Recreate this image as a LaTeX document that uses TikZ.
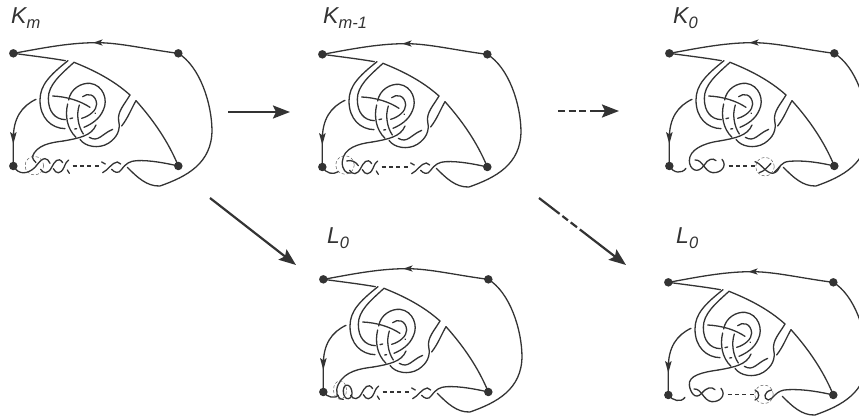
\documentclass[tikz,border=0pt]{standalone}
\usepackage{fontspec}
\setmainfont{Liberation Sans}
\usetikzlibrary{arrows.meta,shapes.geometric}
\definecolor{ink}{HTML}{333333}
\tikzset{
    strand/.style={draw=ink,line width=1.3pt,line cap=round},
    ring/.style={draw=ink!80,line width=.5pt,densely dashed},
    gapdots/.style={draw=ink,line width=1.3pt,dash pattern=on 4pt off 3.4pt},
    endpoint/.style={circle,fill=ink,inner sep=0pt,minimum size=8.5pt},
    panellabel/.style={anchor=base west,inner sep=0pt,text=ink,font=\fontsize{23}{23}\selectfont\itshape},
    mainarrow/.style={draw=ink,line width=2.2pt,-{Stealth[length=17pt,width=13pt,inset=3pt]}},
    panel/.style={x=.3333pt,y=-.3333pt}
}
\newcommand{\lowtag}[1]{\raisebox{-5pt}{\fontsize{16.5}{16.5}\selectfont #1}}
% the part of the knot that all five panels share
\newcommand{\knotcore}{
    \node[endpoint] (tl) at (40,70) {};
    \node[endpoint] (tr) at (535,70) {};
    \node[endpoint] (bl) at (40,408) {};
    \node[endpoint] (br) at (535,408) {};
    \coordinate (topmid) at (290,38);
    \coordinate (leftmid) at (40,325);
    \draw[strand] (tr.center) .. controls (440,58) and (360,38) .. (topmid) .. controls (200,38) and (110,58) .. (tl.center);
    \fill[ink] (280,38) -- (308,28) -- (301,38) -- (308,47) -- cycle;
    \draw[strand] (tl.center) .. controls (100,78) and (150,84) .. (196,92);
    \draw[strand] (204,92) .. controls (150,135) and (120,165) .. (120,210) .. controls (120,265) and (155,295) .. (195,296);
    \draw[strand] (390,195) .. controls (340,150) and (280,120) .. (222,97) .. controls (180,135) and (145,165) .. (145,205) .. controls (145,245) and (165,268) .. (196,269);
    \draw[strand] (390,195) .. controls (372,225) and (352,245) .. (356,272) .. controls (362,300) and (352,322) .. (325,340) .. controls (295,358) and (255,350) .. (240,328);
    \draw[strand] (408,212) .. controls (392,240) and (385,262) .. (365,288);
    \draw[strand] (408,212) .. controls (460,270) and (505,335) .. (br.center);
    \draw[strand] (158,198) .. controls (200,200) and (240,212) .. (270,232);
    \draw[strand] (248,200) .. controls (262,188) and (288,192) .. (290,222) .. controls (290,240) and (270,258) .. (245,265);
    \draw[strand] (206,210) .. controls (212,175) and (245,158) .. (270,160) .. controls (310,165) and (325,210) .. (310,240) .. controls (298,268) and (275,282) .. (252,292);
    \draw[strand] (203,222) .. controls (195,255) and (200,295) .. (228,322);
    \draw[strand] (238,225) .. controls (228,255) and (235,290) .. (250,312);
    \draw[strand] (210,266) -- (218,264);
    \draw[strand] (224,297) -- (230,296);
    \draw[strand] (285,249) -- (286,250);
    \draw[strand] (268,322) .. controls (295,338) and (305,312) .. (338,298);
    \draw[strand] (108,208) .. controls (65,228) and (40,265) .. (leftmid) -- (bl.center);
    \fill[ink] (40,342) -- (30,306) -- (40,313) -- (50,306) -- cycle;
    \draw[strand] (tr.center) .. controls (600,110) and (635,220) .. (636,300) .. controls (636,400) and (560,440) .. (480,468) .. controls (440,470) and (410,440) .. (382,412);
    \draw[strand] (190,333) .. controls (235,325) and (275,318) .. (288,285);
}
% the two twists at the right end
\newcommand{\twistright}{
    \draw[strand] (308,428) .. controls (325,420) and (335,398) .. (352,396) -- (362,402);
    \draw[strand] (305,396) -- (316,402);
    \draw[strand] (335,418) .. controls (342,426) and (355,434) .. (365,418) .. controls (378,400) and (390,393) .. (410,392) .. controls (450,390) and (500,400) .. (br.center);
    \draw[gapdots] (218,408) -- (296,408);
}
% the crossings after the first one
\newcommand{\twisttail}{
    \draw[strand] (122,418) .. controls (130,432) and (145,432) .. (155,412) .. controls (163,396) and (175,378) .. (188,398);
    \draw[strand] (160,416) .. controls (168,432) and (182,434) .. (192,412) .. controls (197,400) and (200,394) .. (206,390);
    \draw[strand] (202,420) -- (208,430);
}
\begin{document}
\begin{tikzpicture}[x=1pt,y=-1pt]
\useasboundingbox (0,0) rectangle (859,416);
\node[panellabel] (labelA) at (11,23) {K\lowtag{m}};
\node[panellabel] (labelB) at (323,23) {K\lowtag{m-1}};
\node[panellabel] (labelC) at (673,23) {K\lowtag{0}};
\node[panellabel] (labelD) at (327,243) {L\lowtag{0}};
\node[panellabel] (labelE) at (676,243) {L\lowtag{0}};
% first panel
\begin{scope}[shift={(0pt,-30pt)},panel]
    \knotcore
    \twistright
    \draw[strand] (bl.center) .. controls (55,435) and (82,434) .. (105,412) .. controls (115,400) and (125,385) .. (135,386) .. controls (142,386) and (146,392) .. (150,400);
    \draw[strand] (190,333) .. controls (150,338) and (110,345) .. (97,380) .. controls (97,386) and (102,392) .. (108,398);
    \twisttail
    \node[ring,circle,minimum size=18.5pt,inner sep=0pt] (ringA) at (103,407) {};
\end{scope}
% second panel
\begin{scope}[shift={(309pt,-31pt)},panel]
    \knotcore
    \twistright
    \draw[strand] (bl.center) .. controls (52,428) and (72,432) .. (88,422);
    \draw[strand] (190,333) .. controls (150,338) and (103,350) .. (100,392) .. controls (98,415) and (112,430) .. (125,426);
    \draw[strand] (113,390) .. controls (128,386) and (140,392) .. (148,404);
    \twisttail
    \node[ring,circle,minimum size=18.5pt,inner sep=0pt] (ringB) at (108,402) {};
\end{scope}
% third panel
\begin{scope}[shift={(656pt,-30pt)},panel]
    \knotcore
    \draw[strand] (bl.center) .. controls (52,430) and (78,432) .. (90,415);
    \draw[strand] (190,333) .. controls (140,340) and (100,360) .. (100,392) .. controls (100,418) and (125,435) .. (145,405) .. controls (155,388) and (170,382) .. (180,392);
    \draw[strand] (117,390) .. controls (140,388) and (145,425) .. (170,428) .. controls (195,430) and (215,408) .. (198,388);
    \draw[strand] (297,395) .. controls (315,400) and (330,430) .. (350,430) .. controls (362,428) and (368,418) .. (372,410);
    \draw[strand] (310,428) .. controls (325,424) and (335,410) .. (345,400);
    \draw[strand] (356,426) .. controls (372,412) and (375,396) .. (400,394) .. controls (450,390) and (500,400) .. (br.center);
    \draw[gapdots] (218,408) -- (296,408);
    \node[ring,circle,minimum size=18.5pt,inner sep=0pt] (ringC) at (327,410) {};
\end{scope}
% fourth panel
\begin{scope}[shift={(310pt,-256pt)},panel]
    \knotcore
    \twistright
    \draw[strand] (bl.center) .. controls (52,425) and (75,428) .. (85,418);
    \draw[strand] (190,333) .. controls (150,338) and (105,345) .. (85,385) .. controls (75,405) and (80,430) .. (100,430);
    \draw[strand] (108,388) .. controls (125,382) and (135,425) .. (115,428) .. controls (98,430) and (95,392) .. (108,388);
    \twisttail
    \node[ring,ellipse,minimum width=13pt,minimum height=18.5pt,inner sep=0pt] (ringD) at (90,402) {};
\end{scope}
% fifth panel
\begin{scope}[shift={(655pt,-259pt)},panel]
    \knotcore
    \draw[strand] (bl.center) .. controls (52,425) and (78,432) .. (90,415);
    \draw[strand] (190,333) .. controls (140,340) and (100,350) .. (103,378) .. controls (105,398) and (120,425) .. (140,403) .. controls (155,385) and (170,382) .. (180,392);
    \draw[strand] (117,390) .. controls (140,388) and (145,425) .. (170,428) .. controls (195,430) and (215,408) .. (198,388);
    \draw[strand] (300,393) .. controls (315,398) and (315,420) .. (300,423);
    \draw[strand] (350,393) .. controls (325,398) and (325,420) .. (340,423) .. controls (358,420) and (360,392) .. (400,392) .. controls (450,390) and (500,400) .. (br.center);
    \draw[gapdots] (218,406) -- (296,406);
    \node[ring,circle,minimum size=18.5pt,inner sep=0pt] (ringE) at (327,406) {};
\end{scope}
\coordinate (startA) at (228,112);
\coordinate (endA) at (290,112);
\coordinate (startB) at (558,111);
\coordinate (endB) at (619,111);
\coordinate (startC) at (210,198);
\coordinate (endC) at (296,265);
\coordinate (startD) at (539,198);
\coordinate (endD) at (626,265);
\draw[mainarrow] (startA) -- (endA);
\draw[mainarrow,dash pattern=on 7pt off 3.5pt on 7pt off 3.5pt on 7pt off 4pt on 60pt] (startB) -- (endB);
\draw[mainarrow] (startC) -- (endC);
\draw[mainarrow,dash pattern=on 26pt off 3.5pt on 7pt off 3.5pt on 8pt off 3.5pt on 120pt] (startD) -- (endD);
\end{tikzpicture}
\end{document}
